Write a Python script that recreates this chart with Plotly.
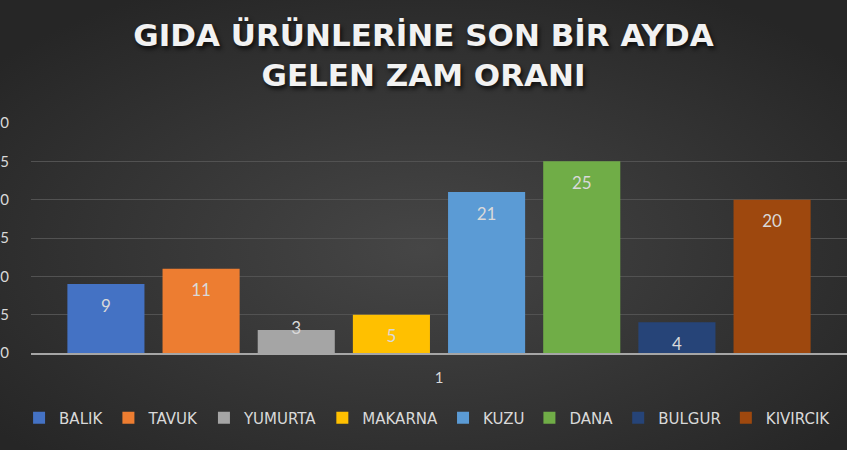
import base64
import plotly.graph_objects as go

# veriler
kategori = ["1"]
urunler = ["BALIK", "TAVUK", "YUMURTA", "MAKARNA", "KUZU", "DANA", "BULGUR", "KIVIRCIK"]
zam_orani = [9, 11, 3, 5, 21, 25, 4, 20]
renkler = ["#4472C4", "#ED7D31", "#A5A5A5", "#FFC000", "#5B9BD5", "#70AD47", "#264478", "#9E480E"]

W, H = 847, 450
L, R, T, B = 31, 0, 123, 97
pw, ph = W - L - R, H - T - B
GAP = 0.067

# koyu radyal arka plan (Excel görünümü)
svg = (
    f'<svg xmlns="http://www.w3.org/2000/svg" width="{W}" height="{H}">'
    '<defs><radialGradient id="g" cx="50%" cy="55%" r="65%">'
    '<stop offset="0" stop-color="#464646"/><stop offset="1" stop-color="#262626"/>'
    '</radialGradient></defs>'
    f'<rect width="{W}" height="{H}" fill="url(#g)"/></svg>'
)
bg = "data:image/svg+xml;base64," + base64.b64encode(svg.encode()).decode()

fig = go.Figure()
for i, (ad, deger, renk) in enumerate(zip(urunler, zam_orani, renkler)):
    fig.add_trace(go.Bar(
        x=kategori, y=[deger], name=ad, offsetgroup=str(i),
        marker=dict(color=renk, line=dict(width=0)),
    ))
# veri etiketleri: sütunların üst kenarının içinde
for i, deger in enumerate(zam_orani):
    fig.add_trace(go.Scatter(
        x=kategori, y=[deger], mode="markers+text", offsetgroup=str(i),
        marker=dict(size=22, color="rgba(0,0,0,0)"),
        text=[str(deger)],
        textposition="bottom center" if deger >= 4 else "middle center",
        textfont=dict(color="#d9d9d9", size=17, family="Lato"),
        showlegend=False, hoverinfo="skip", cliponaxis=False,
    ))

fig.update_layout(
    width=W, height=H,
    margin=dict(l=L, r=R, t=T, b=B, autoexpand=False),
    paper_bgcolor="#333333",
    plot_bgcolor="rgba(0,0,0,0)",
    barmode="group", bargap=GAP, bargroupgap=0.19,
    scattermode="group", scattergap=GAP,
    title=dict(
        text="GIDA ÜRÜNLERİNE SON BİR AYDA<br>GELEN ZAM ORANI",
        x=0.5, xanchor="center", yref="container", y=(H - 46) / H, yanchor="middle",
        font=dict(family="DejaVu Sans", size=31, color="#f2f2f2", weight="bold",
                  shadow="2px 3px 4px rgba(0,0,0,0.7)"),
    ),
    font=dict(family="Lato", color="#d9d9d9", size=15),
    legend=dict(
        orientation="h", x=0.486, xanchor="center", yref="container", y=(H - 418) / H,
        yanchor="middle", font=dict(size=15, color="#d9d9d9", family="DejaVu Sans"),
        itemwidth=30, traceorder="normal", bgcolor="rgba(0,0,0,0)",
    ),
    xaxis=dict(showline=True, linecolor="#a6a6a6", linewidth=2, ticks="",
               tickfont=dict(size=15, color="#d9d9d9"), ticklabelstandoff=10,
               showgrid=False, automargin=False),
    yaxis=dict(range=[0, 30], dtick=5, gridcolor="#525252", gridwidth=1,
               zeroline=False, showline=False, ticks="",
               tickfont=dict(size=15, color="#d9d9d9"), ticklabelstandoff=21,
               automargin=False),
    images=[dict(source=bg, xref="paper", yref="paper",
                 x=-L / pw, y=1 + T / ph, sizex=W / pw, sizey=H / ph,
                 xanchor="left", yanchor="top", sizing="stretch", layer="below")],
)

fig.write_html("out.html", config={"displayModeBar": False},
               post_script="document.body.style.margin='0';document.body.style.overflow='hidden';")
